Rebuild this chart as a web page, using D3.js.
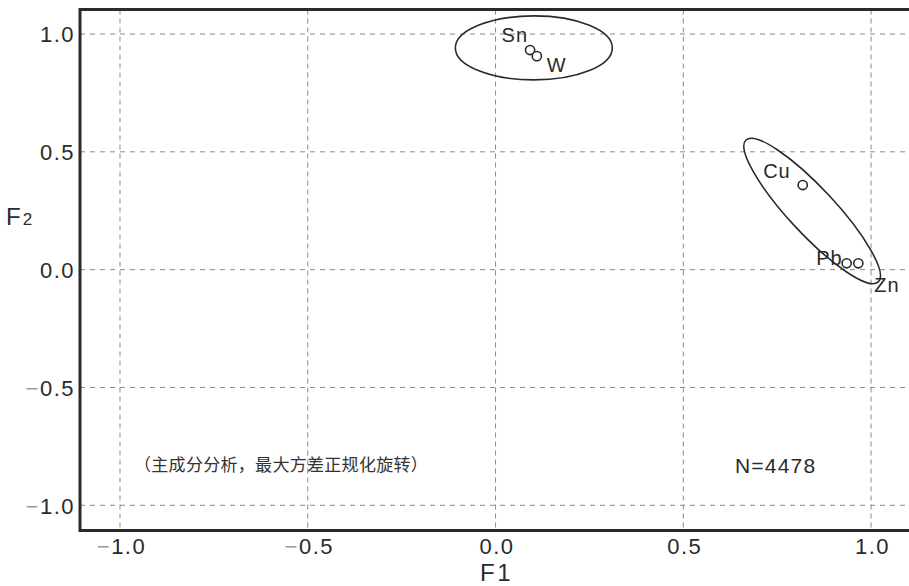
<!DOCTYPE html>
<html>
<head>
<meta charset="utf-8">
<script src="https://cdn.jsdelivr.net/npm/d3@7"></script>
<style>
  html, body { margin: 0; padding: 0; background: #fff; overflow: hidden; }
  svg { display: block; overflow: hidden; }
</style>
</head>
<body>
<div id="chart"></div>
<script>
// ---- data ----
const elements = ["Sn", "W", "Cu", "Pb", "Zn"];
const f1Values = [0.092, 0.110, 0.818, 0.935, 0.966];
const f2Values = [0.932, 0.906, 0.359, 0.027, 0.027];
const tickValues = [-1.0, -0.5, 0.0, 0.5, 1.0];
const tickLabels = ["−1.0", "−0.5", "0.0", "0.5", "1.0"];
const groupCenterF1 = [0.102, 0.843];
const groupCenterF2 = [0.941, 0.249];
const noteText = "（主成分分析，最大方差正规化旋转）";
const countText = "N=4478";

// ---- layout ----
const W = 909, H = 586;
const margin = { left: 80, top: 9.5, right: 0, bottom: 55.5 };
const x = d3.scaleLinear().domain([-1.1065, 1.101]).range([margin.left, W - margin.right]);
const y = d3.scaleLinear().domain([-1.107, 1.104]).range([H - margin.bottom, margin.top]);

const svg = d3.select("#chart").append("svg").attr("width", W).attr("height", H);
const ink = "#2a2a2a";
const font = "'Liberation Sans', Arial, Helvetica, sans-serif";

// gridlines
const grid = svg.append("g").attr("stroke", "#8a8a8a").attr("stroke-width", 1).attr("fill", "none");
grid.selectAll("line.v").data(tickValues).join("line")
  .attr("class", "v")
  .attr("x1", d => x(d)).attr("x2", d => x(d))
  .attr("y1", y.range()[1]).attr("y2", y.range()[0])
  .attr("stroke-dasharray", "5,4");
grid.selectAll("line.h").data(tickValues).join("line")
  .attr("class", "h")
  .attr("y1", d => y(d)).attr("y2", d => y(d))
  .attr("x1", x.range()[0]).attr("x2", x.range()[1])
  .attr("stroke-dasharray", "5,5");

// axes
const xAxis = d3.axisBottom(x).tickValues(tickValues).tickSize(0).tickPadding(8)
  .tickFormat((d, i) => tickLabels[i]);
const yAxis = d3.axisLeft(y).tickValues(tickValues).tickSize(0).tickPadding(5)
  .tickFormat((d, i) => tickLabels[i]);

const gx = svg.append("g").attr("transform", `translate(0,${y.range()[0]})`).call(xAxis);
const gy = svg.append("g").attr("transform", `translate(${x.range()[0]},0)`).call(yAxis);
[gx, gy].forEach(g => {
  g.select(".domain").remove();
  g.selectAll("text")
    .attr("font-family", font).attr("font-size", 22).attr("fill", ink)
    .attr("letter-spacing", "1.5px");
});
gx.selectAll("text").attr("dy", "0.71em").attr("dx", "1px");
gy.selectAll("text").attr("dy", "0.36em");

// minus signs lighter
[gx, gy].forEach(g => {
  g.selectAll("text").each(function(d, i) {
    const t = d3.select(this);
    const s = tickLabels[i];
    if (s.startsWith("−")) {
      t.text(null);
      t.append("tspan").attr("fill", "#9a9a9a").text("−");
      t.append("tspan").text(s.slice(1));
    }
  });
});

// frame: left, bottom, top
const frame = svg.append("g").attr("stroke", ink).attr("stroke-width", 3).attr("fill", "none");
frame.append("line").attr("x1", x.range()[0]).attr("x2", x.range()[0]).attr("y1", y.range()[1] - 1.5).attr("y2", y.range()[0] + 1.5);
frame.append("line").attr("x1", x.range()[0]).attr("x2", W + 5).attr("y1", y.range()[0]).attr("y2", y.range()[0]);
frame.append("line").attr("x1", x.range()[0]).attr("x2", W + 5).attr("y1", y.range()[1]).attr("y2", y.range()[1]);

// axis titles
svg.append("text").attr("x", 480).attr("y", 581)
  .attr("font-family", font).attr("font-size", 24).attr("fill", ink).attr("letter-spacing", "2.5px")
  .text("F1");
const f2t = svg.append("text").attr("x", 6).attr("y", 225)
  .attr("font-family", font).attr("font-size", 24).attr("fill", ink);
f2t.append("tspan").text("F");
f2t.append("tspan").attr("font-size", 17).attr("dx", 2).text("2");

// group ellipses
const ellipseGroup = svg.append("g").attr("fill", "none").attr("stroke", ink).attr("stroke-width", 1.6);
const ellipseShapes = [{ rx: 78.5, ry: 32, rot: 0 }, { rx: 97, ry: 23, rot: 47 }];
ellipseGroup.selectAll("ellipse").data(groupCenterF1).join("ellipse")
  .attr("cx", 0).attr("cy", 0)
  .attr("rx", (d, i) => ellipseShapes[i].rx)
  .attr("ry", (d, i) => ellipseShapes[i].ry)
  .attr("transform", (d, i) => `translate(${x(d)},${y(groupCenterF2[i])}) rotate(${ellipseShapes[i].rot})`);

// points
const pts = elements.map((e, i) => ({ e, f1: f1Values[i], f2: f2Values[i] }));
svg.append("g").selectAll("circle").data(pts).join("circle")
  .attr("cx", d => x(d.f1)).attr("cy", d => y(d.f2)).attr("r", 4.6)
  .attr("fill", "#fff").attr("stroke", ink).attr("stroke-width", 1.6);

// labels
const labelOffsets = {
  Sn: { dx: -2, dy: -8, anchor: "end" },
  W:  { dx: 10, dy: 16, anchor: "start" },
  Cu: { dx: -12, dy: -7, anchor: "end" },
  Pb: { dx: -4, dy: 2, anchor: "end" },
  Zn: { dx: 16, dy: 29, anchor: "start" }
};
svg.append("g").selectAll("text").data(pts).join("text")
  .attr("x", d => x(d.f1) + labelOffsets[d.e].dx)
  .attr("y", d => y(d.f2) + labelOffsets[d.e].dy)
  .attr("text-anchor", d => labelOffsets[d.e].anchor)
  .attr("font-family", font).attr("font-size", 20).attr("fill", ink).attr("letter-spacing", "1px")
  .text(d => d.e);

// notes
svg.append("text").attr("x", 134).attr("y", 471)
  .attr("font-family", "'Noto Sans CJK SC', sans-serif").attr("font-size", 17).attr("fill", "#333")
  .attr("letter-spacing", "0.3px")
  .text(noteText);
svg.append("text").attr("x", 735).attr("y", 473)
  .attr("font-family", font).attr("font-size", 21).attr("fill", ink).attr("letter-spacing", "1.2px")
  .text(countText);
</script>
</body>
</html>
